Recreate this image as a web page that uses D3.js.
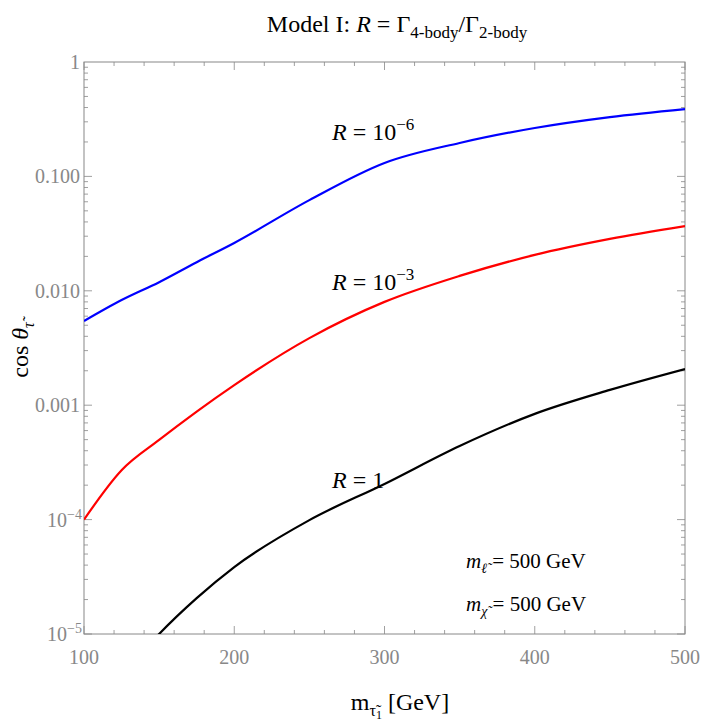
<!DOCTYPE html><html><head><meta charset="utf-8">
<script src="https://cdn.jsdelivr.net/npm/d3@7"></script>
<style>body{margin:0;background:#fff}text{font-family:"Liberation Serif","DejaVu Serif",serif}</style></head><body>
<svg id="c" width="706" height="728"></svg>
<script>
const xs = [100,125,150,175,200,250,300,350,400,450,500];
const blue = [0.00544,0.0083,0.0119,0.0178,0.0262,0.062,0.131,0.196,0.265,0.330,0.388];
const red = [1e-4,2.7e-4,4.97e-4,0.00088,0.0015,0.00386,0.0080,0.0135,0.0206,0.0284,0.0368];
const blackX = [140,150,175,200,250,300,350,400,450,500];
const black = [7.2e-6,1e-5,2.06e-5,3.85e-5,9.9e-5,2.05e-4,4.4e-4,8.4e-4,1.36e-3,2.07e-3];
const yTicks = [1,0.1,0.01,0.001,1e-4,1e-5];
const yLabels = ["1","0.100","0.010","0.001","10|-4","10|-5"];
const xTicks = [100,200,300,400,500];

const svg = d3.select("#c");
const L=84,R=685,T=62,B=634;
const x = d3.scaleLinear().domain([100,500]).range([L,R]);
const y = d3.scaleLog().domain([1e-5,1]).range([B,T]);
const gray="#888";
svg.append("defs").append("clipPath").attr("id","cp").append("rect").attr("x",L).attr("y",T).attr("width",R-L).attr("height",B-T);
const g=svg.append("g").attr("stroke",gray).attr("stroke-width",0.8);
for(let v=100;v<=500;v+=20){const big=v%100===0;const l=big?8:4;
 g.append("line").attr("x1",x(v)).attr("x2",x(v)).attr("y1",B).attr("y2",B-l);
 g.append("line").attr("x1",x(v)).attr("x2",x(v)).attr("y1",T).attr("y2",T+l);}
for(let e=-5;e<0;e++)for(let m=1;m<10;m++){const v=m*Math.pow(10,e);const l=m===1?8:4;
 g.append("line").attr("x1",L).attr("x2",L+l).attr("y1",y(v)).attr("y2",y(v));
 g.append("line").attr("x1",R).attr("x2",R-l).attr("y1",y(v)).attr("y2",y(v));}
svg.append("rect").attr("x",L).attr("y",T).attr("width",R-L).attr("height",B-T).attr("fill","none").attr("stroke",gray).attr("stroke-width",1);
yTicks.forEach((v,i)=>{const s=yLabels[i];const t=svg.append("text").attr("x",L-4).attr("y",y(v)+7).attr("text-anchor","end").attr("fill",gray).attr("font-size",20);
 if(s.includes("|")){const [b,e]=s.split("|");t.append("tspan").text(b);t.append("tspan").attr("dy",-8).attr("font-size",14).text(e.replace("-","−"));t.attr("x",L-2);}else t.text(s);});
xTicks.forEach(v=>svg.append("text").attr("x",x(v)).attr("y",B+30).attr("text-anchor","middle").attr("fill",gray).attr("font-size",20).text(v));
const line=(xa)=>d3.line().x((d,i)=>x(xa[i])).y(d=>y(d)).curve(d3.curveMonotoneX);
const pg=svg.append("g").attr("clip-path","url(#cp)").attr("fill","none").attr("stroke-width",2.2);
pg.append("path").attr("d",line(xs)(blue)).attr("stroke","#0000ff");
pg.append("path").attr("d",line(xs)(red)).attr("stroke","#ff0000");
pg.append("path").attr("d",line(blackX)(black)).attr("stroke","#000");
function rlab(px,py,exp){const t=svg.append("text").attr("x",px).attr("y",py).attr("font-size",24);
 t.append("tspan").attr("font-style","italic").text("R");t.append("tspan").text(exp===null?" = 1":" = 10");
 if(exp!==null)t.append("tspan").attr("dy",-10).attr("font-size",17).text(exp);}
rlab(332,140,"−6");rlab(332,290,"−3");rlab(332,488,null);
function mlab(py,sub){const t=svg.append("text").attr("x",466).attr("y",py).attr("font-size",21);
 t.append("tspan").attr("font-style","italic").text("m");t.append("tspan").attr("dy",5).attr("font-size",14).attr("font-style","italic").text(sub);
 t.append("tspan").attr("dy",-5).text(" = 500 GeV");}
mlab(568,"ℓ̃");mlab(611,"χ̃");
// title
const tt=svg.append("text").attr("x",397).attr("y",32).attr("text-anchor","middle").attr("font-size",24);
tt.append("tspan").text("Model I: ");tt.append("tspan").attr("font-style","italic").text("R");
tt.append("tspan").text(" = Γ");tt.append("tspan").attr("dy",6).attr("font-size",17).text("4-body");
tt.append("tspan").attr("dy",-6).text("/Γ");tt.append("tspan").attr("dy",6).attr("font-size",17).text("2-body");
// x title
const xt=svg.append("text").attr("x",400).attr("y",710).attr("text-anchor","middle").attr("font-size",24);
xt.append("tspan").text("m");xt.append("tspan").attr("dy",6).attr("font-size",16).text("τ̃");
xt.append("tspan").attr("font-size",12).attr("dy",3).text("1");xt.append("tspan").attr("dy",-9).text(" [GeV]");
// y title
const yt=svg.append("text").attr("transform","translate(28,350) rotate(-90)").attr("text-anchor","middle").attr("font-size",24);
yt.append("tspan").text("cos ");yt.append("tspan").attr("font-style","italic").text("θ");
yt.append("tspan").attr("dy",6).attr("font-size",16).attr("font-style","italic").text("τ̃");
</script></body></html>
